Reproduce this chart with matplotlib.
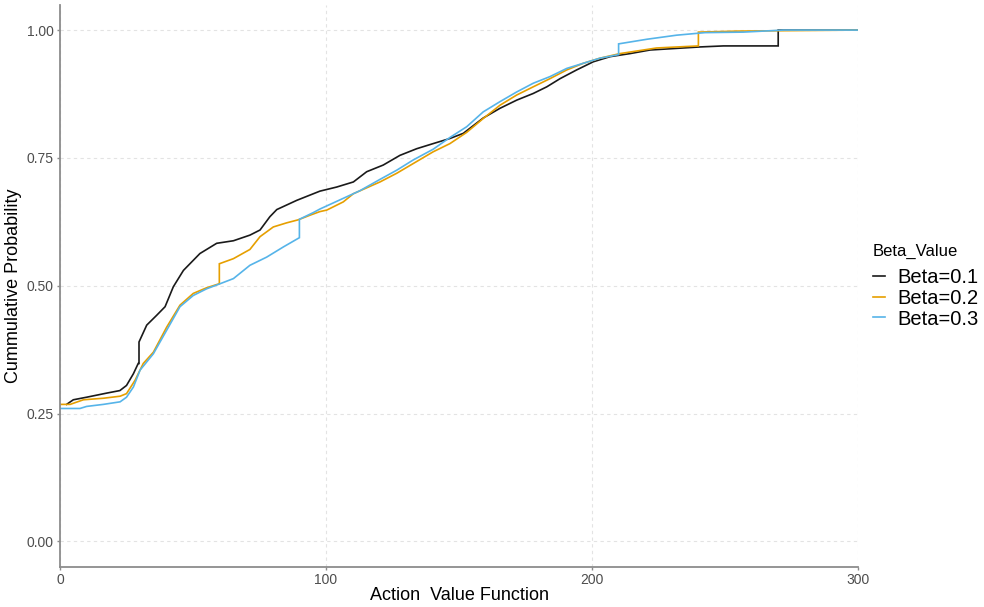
import matplotlib
matplotlib.use("Agg")
import matplotlib.pyplot as plt

plt.rcParams['font.family'] = ['Liberation Sans', 'DejaVu Sans']

# ---- data ----
labels = ["Beta=0.1", "Beta=0.2", "Beta=0.3"]
colors = ["#1a1a1a", "#E69F00", "#56B4E9"]

b1_x = [2.5, 5, 10, 17.5, 22.5, 25, 27.6, 29.4, 29.7, 29.7, 32.6, 36.3, 39.5, 42.6,
        46.4, 52.6, 58.9, 65.2, 71.4, 75.2, 78.9, 81.5, 89, 97.7, 104, 110.3, 115.3,
        121.5, 127.8, 134.1, 140.3, 146.6, 151.6, 159.1, 165.4, 171.7, 177.9, 183,
        188, 194.2, 200.5, 206.8, 214.3, 221.8, 240.6, 249.4, 270, 270, 300]
b1_y = [0.268, 0.277, 0.282, 0.290, 0.295, 0.305, 0.328, 0.348, 0.348, 0.390, 0.423,
        0.442, 0.459, 0.498, 0.530, 0.563, 0.583, 0.588, 0.599, 0.609, 0.635, 0.649,
        0.667, 0.685, 0.693, 0.703, 0.723, 0.736, 0.755, 0.768, 0.778, 0.788, 0.798,
        0.828, 0.847, 0.863, 0.876, 0.889, 0.905, 0.922, 0.938, 0.948, 0.954, 0.961,
        0.967, 0.969, 0.969, 1.0, 1.0]

b2_x = [0, 3.8, 8.8, 16.3, 22.6, 25, 28.2, 31.3, 35.1, 40.1, 45.1, 50.1, 55.1, 59.9,
        59.9, 65.2, 71.4, 75.2, 80.2, 85.2, 89.6, 94, 97.7, 100.3, 106.5, 110.3, 120.3,
        126.6, 132.8, 140.3, 146.6, 152.9, 159.1, 165.4, 171.7, 177.9, 184.2, 190.5,
        196.7, 203, 210.5, 216.8, 224.3, 240, 240, 255, 300]
b2_y = [0.268, 0.268, 0.277, 0.280, 0.284, 0.289, 0.315, 0.348, 0.370, 0.419, 0.462,
        0.485, 0.496, 0.504, 0.543, 0.553, 0.571, 0.596, 0.615, 0.623, 0.629, 0.638,
        0.645, 0.648, 0.664, 0.680, 0.703, 0.720, 0.739, 0.762, 0.778, 0.800, 0.827,
        0.853, 0.873, 0.889, 0.905, 0.922, 0.935, 0.945, 0.954, 0.959, 0.965, 0.969,
        0.996, 0.998, 1.0]

b3_x = [0, 7.5, 10, 16.3, 22.6, 25, 27.6, 30.1, 35.1, 40.1, 45.1, 50.1, 55.1, 60.2,
        65.2, 71.4, 77.7, 84, 90, 90, 95.2, 97.7, 104, 112.8, 120.3, 126.6, 132.8,
        140.3, 146.6, 152.9, 159.1, 165.4, 171.7, 177.9, 184.2, 190.5, 196.7, 203,
        210, 210, 220.6, 231.8, 242.5, 256.9, 272, 300]
b3_y = [0.260, 0.260, 0.264, 0.268, 0.273, 0.282, 0.302, 0.335, 0.367, 0.413, 0.459,
        0.481, 0.494, 0.504, 0.514, 0.540, 0.556, 0.576, 0.594, 0.630, 0.643, 0.650,
        0.665, 0.686, 0.708, 0.726, 0.746, 0.767, 0.790, 0.811, 0.840, 0.860, 0.879,
        0.896, 0.909, 0.925, 0.935, 0.945, 0.952, 0.973, 0.982, 0.990, 0.995, 0.996,
        1.0, 1.0]

x_ticks = [0, 100, 200, 300]
y_ticks = [0.00, 0.25, 0.50, 0.75, 1.00]
y_tick_labels = ["0.00", "0.25", "0.50", "0.75", "1.00"]

# ---- figure ----
fig = plt.figure(figsize=(9.84, 6.07), dpi=100)
ax = fig.add_axes([60 / 984, 1 - 567 / 607, (858 - 60) / 984, (567 - 4.5) / 607])

series = [(b1_x, b1_y), (b2_x, b2_y), (b3_x, b3_y)]
for (xs, ys), lab, col in zip(series, labels, colors):
    ax.plot(xs, ys, color=col, lw=1.2, label=lab, solid_joinstyle='miter')

ax.set_xlim(0, 300)
ax.set_ylim(-0.05, 1.05)
ax.set_xticks(x_ticks)
ax.set_xticklabels([str(t) for t in x_ticks])
ax.set_yticks(y_ticks)
ax.set_yticklabels(y_tick_labels)

ax.grid(True, color="#e3e3e3", lw=0.8, linestyle=(0, (3, 3)))
ax.set_axisbelow(True)
for s in ["top", "right"]:
    ax.spines[s].set_visible(False)
for s in ["left", "bottom"]:
    ax.spines[s].set_color("#8c8c8c")
    ax.spines[s].set_linewidth(1.3)
ax.tick_params(axis="both", colors="#8c8c8c", length=2.5, width=1,
               labelcolor="#4d4d4d", labelsize=10)
ax.tick_params(axis="x", pad=1.5)
ax.tick_params(axis="y", pad=2)

ax.set_xlabel("Action  Value Function", fontsize=13, color="black")
ax.set_ylabel("Cummulative Probability", fontsize=13, color="black")
ax.xaxis.set_label_coords(0.5, -(587 - 567) / 562.5)
ax.yaxis.set_label_coords(-(60 - 22) / 798, 0.5)

leg = ax.legend(loc="center left", bbox_to_anchor=(865 / 984, 1 - 286 / 607),
                bbox_transform=fig.transFigure, frameon=False,
                title="Beta_Value", title_fontsize=12, fontsize=14.5,
                handlelength=0.6, handletextpad=0.6, labelspacing=0.08,
                borderaxespad=0)
leg._legend_box.align = "left"
leg._legend_box.sep = 7

fig.savefig("out.png", dpi=100)
